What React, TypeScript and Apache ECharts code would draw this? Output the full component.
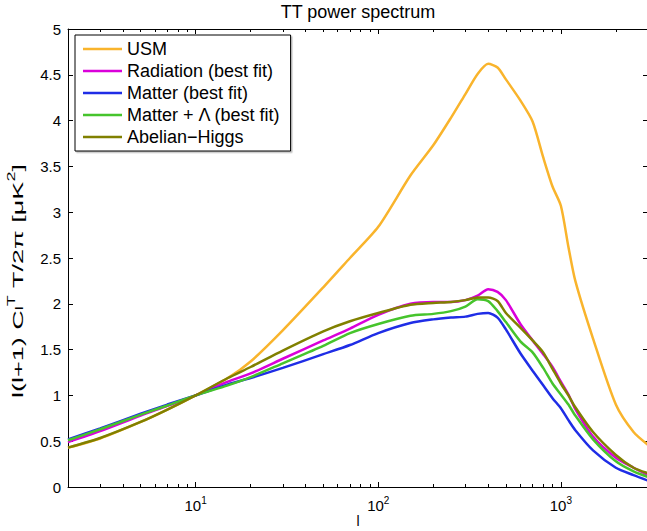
import React, { useEffect, useRef } from 'react';
import * as echarts from 'echarts';

// multipole l
const ells = [2, 3, 5, 7, 10, 15, 20, 30, 50, 70, 100, 150, 200, 250, 300, 350, 400, 450, 500, 600, 700, 800, 900, 1000, 1100, 1200, 1500, 2000, 2500, 3000];

const usm = [0.43, 0.53, 0.71, 0.845, 1.0, 1.19, 1.37, 1.71, 2.18, 2.5, 2.84, 3.4, 3.73, 4.03, 4.29, 4.51, 4.62, 4.58, 4.45, 4.22, 3.99, 3.6, 3.28, 3.07, 2.62, 2.25, 1.62, 0.9, 0.6, 0.46];
const radiation = [0.49, 0.61, 0.78, 0.885, 1.0, 1.15, 1.24, 1.4, 1.6, 1.73, 1.88, 2.0, 2.02, 2.02, 2.04, 2.09, 2.16, 2.13, 2.04, 1.78, 1.6, 1.45, 1.31, 1.15, 1.01, 0.85, 0.55, 0.32, 0.21, 0.13];
const matter = [0.52, 0.64, 0.8, 0.9, 1.0, 1.12, 1.19, 1.3, 1.45, 1.55, 1.68, 1.79, 1.83, 1.85, 1.86, 1.89, 1.9, 1.85, 1.72, 1.46, 1.27, 1.11, 0.97, 0.86, 0.73, 0.62, 0.4, 0.21, 0.13, 0.07];
const matterLambda = [0.51, 0.63, 0.79, 0.89, 1.0, 1.11, 1.2, 1.35, 1.54, 1.68, 1.78, 1.87, 1.89, 1.92, 1.97, 2.05, 2.03, 1.92, 1.8, 1.59, 1.47, 1.3, 1.13, 1.01, 0.9, 0.78, 0.52, 0.28, 0.17, 0.11];
const abelianHiggs = [0.43, 0.535, 0.71, 0.845, 1.0, 1.19, 1.31, 1.49, 1.7, 1.81, 1.9, 1.99, 2.01, 2.02, 2.04, 2.07, 2.07, 2.03, 1.9, 1.74, 1.6, 1.47, 1.29, 1.13, 1.0, 0.87, 0.6, 0.35, 0.21, 0.15];

const seriesNames = ['USM', 'Radiation (best fit)', 'Matter (best fit)', 'Matter + \u039B (best fit)', 'Abelian\u2212Higgs'];
const seriesValues = [usm, radiation, matter, matterLambda, abelianHiggs];
const seriesColors = ['#F9B42C', '#DA00DA', '#1F2DE6', '#46C42C', '#808000'];

const xMin = 2;
const xMax = 3000;
const xMajorTicks = [10, 100, 1000];
const xMinorTicks = [2, 3, 4, 5, 6, 7, 8, 9, 20, 30, 40, 50, 60, 70, 80, 90, 200, 300, 400, 500, 600, 700, 800, 900, 2000, 3000];
const yMin = 0;
const yMax = 5;
const yInterval = 0.5;

const titleText = 'TT power spectrum';
const xName = 'l';

const FONT = '"Liberation Sans", Arial, Helvetica, sans-serif';

export default function App() {
  const ref = useRef<HTMLDivElement>(null);

  useEffect(() => {
    document.body.style.margin = '0';
    if (!ref.current) return;
    const chart = echarts.init(ref.current, undefined, { renderer: 'svg' });

    const lg = (v: number) => Math.log10(v);
    const gridCfg = { left: 68, top: 29, width: 580, height: 458 };

    const baseX = {
      type: 'value' as const,
      min: lg(xMin),
      max: lg(xMax),
      splitLine: { show: false },
    };

    const option: any = {
      animation: false,
      textStyle: { fontFamily: FONT },
      grid: { ...gridCfg, containLabel: false, outerBoundsMode: 'none' },
      xAxis: [
        {
          ...baseX,
          position: 'bottom',
          axisLine: { show: true, onZero: false, lineStyle: { color: '#000', width: 1 } },
          axisTick: { show: true, inside: true, length: 5, customValues: xMajorTicks.map(lg), lineStyle: { color: '#000' } },
          axisLabel: {
            show: true,
            margin: 8,
            customValues: xMajorTicks.map(lg),
            formatter: (v: number) => `{b|10}{sup|${Math.round(v)}}`,
            rich: {
              b: { fontSize: 15, color: '#000', fontFamily: FONT, verticalAlign: 'bottom' },
              sup: { fontSize: 10, color: '#000', fontFamily: FONT, verticalAlign: 'bottom', padding: [0, 0, 8, 0] },
            },
          },
        },
        {
          ...baseX,
          position: 'bottom',
          axisLine: { show: false, onZero: false },
          axisTick: { show: true, inside: true, length: 3, customValues: xMinorTicks.map(lg), lineStyle: { color: '#000' } },
          axisLabel: { show: false },
        },
        {
          ...baseX,
          position: 'top',
          axisLine: { show: true, onZero: false, lineStyle: { color: '#000', width: 1 } },
          axisTick: { show: true, inside: true, length: 5, customValues: xMajorTicks.map(lg), lineStyle: { color: '#000' } },
          axisLabel: { show: false },
        },
        {
          ...baseX,
          position: 'top',
          axisLine: { show: false, onZero: false },
          axisTick: { show: true, inside: true, length: 3, customValues: xMinorTicks.map(lg), lineStyle: { color: '#000' } },
          axisLabel: { show: false },
        },
      ],
      yAxis: [
        {
          type: 'value',
          position: 'left',
          min: yMin,
          max: yMax,
          interval: yInterval,
          splitLine: { show: false },
          axisLine: { show: true, onZero: false, lineStyle: { color: '#000', width: 1 } },
          axisTick: { show: true, inside: true, length: 5, lineStyle: { color: '#000' } },
          axisLabel: { show: true, margin: 7, fontSize: 15, color: '#000', fontFamily: FONT },
        },
        {
          type: 'value',
          position: 'right',
          min: yMin,
          max: yMax,
          interval: yInterval,
          splitLine: { show: false },
          axisLine: { show: true, onZero: false, lineStyle: { color: '#000', width: 1 } },
          axisTick: { show: true, inside: true, length: 5, lineStyle: { color: '#000' } },
          axisLabel: { show: false },
        },
      ],
      legend: {
        orient: 'vertical',
        left: 75,
        top: 35,
        padding: [5, 10, 5, 8],
        itemGap: 4,
        itemWidth: 39,
        itemHeight: 2.5,
        icon: 'rect',
        backgroundColor: '#fff',
        borderColor: '#000',
        borderWidth: 1,
        borderRadius: 0,
        shadowColor: 'rgba(0,0,0,0.25)',
        shadowOffsetX: 1.5,
        shadowOffsetY: 1.5,
        shadowBlur: 0,
        data: seriesNames,
        textStyle: { fontSize: 18, lineHeight: 18, color: '#000', fontFamily: FONT },
      },
      graphic: [
        {
          type: 'text',
          x: 358,
          y: 12,
          style: { text: titleText, fontSize: 18, fill: '#000', fontFamily: FONT, align: 'center', verticalAlign: 'middle' },
        },
        {
          type: 'text',
          x: 358,
          y: 521,
          style: { text: xName, fontSize: 14, fill: '#000', fontFamily: FONT, align: 'center', verticalAlign: 'middle' },
        },
        {
          type: 'text',
          x: 16,
          y: 281,
          rotation: Math.PI / 2,
          scaleX: 1.8,
          style: {
            text: '{b|l(l+1) C}{sub|l}{sup|T}{b| T/2\u03C0 [\u03BCK}{sup|2}{b|]}',
            fontFamily: FONT,
            fill: '#000',
            align: 'center',
            verticalAlign: 'middle',
            rich: {
              b: { fontSize: 15, fill: '#000', fontFamily: FONT, verticalAlign: 'bottom' },
              sub: { fontSize: 10, fill: '#000', fontFamily: FONT, verticalAlign: 'bottom' },
              sup: { fontSize: 10, fill: '#000', fontFamily: FONT, verticalAlign: 'bottom', padding: [0, 0, 8, 0] },
            },
          },
        },
      ],
      series: seriesNames.map((name, i) => ({
        name,
        type: 'line',
        xAxisIndex: 0,
        yAxisIndex: 0,
        data: ells.map((l, j) => [lg(l), seriesValues[i][j]]),
        smooth: 0.25,
        symbol: 'none',
        showSymbol: false,
        clip: true,
        lineStyle: { width: 2.5, color: seriesColors[i] },
        itemStyle: { color: seriesColors[i] },
        z: 2 + i,
      })),
    };

    chart.setOption(option);
    return () => {
      chart.dispose();
    };
  }, []);

  return <div ref={ref} style={{ width: 647, height: 531 }} />;
}
